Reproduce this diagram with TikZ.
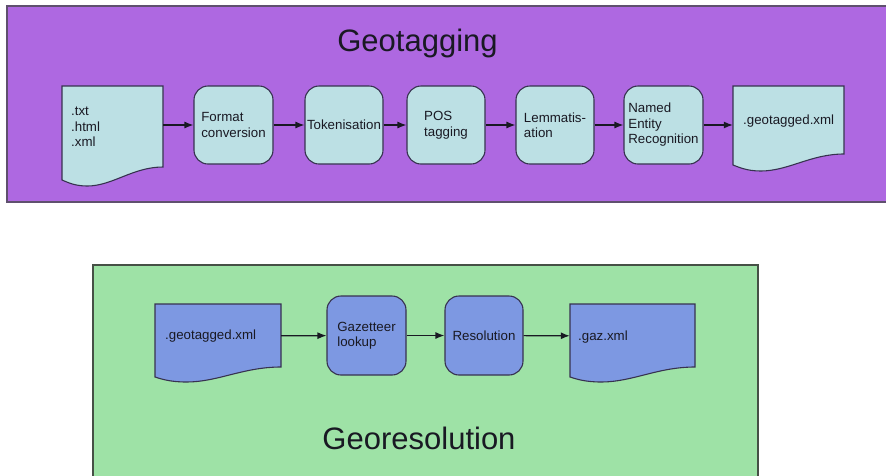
\documentclass[tikz,border=0pt]{standalone}
\usepackage{fontspec}
\setmainfont{Liberation Sans}
\usetikzlibrary{arrows.meta}

\definecolor{tagbg}{RGB}{174,104,225}
\definecolor{tagframe}{RGB}{95,80,110}
\definecolor{resbg}{RGB}{158,226,166}
\definecolor{resframe}{RGB}{70,80,70}
\definecolor{cyanfill}{RGB}{188,224,228}
\definecolor{bluefill}{RGB}{125,152,226}
\definecolor{outline}{RGB}{55,50,80}
\definecolor{ink}{RGB}{25,25,35}

% document symbol: flat top, wavy bottom edge
% #1 style, #2 left x, #3 right x, #4 top y, #5 right-bottom y, #6 left-bottom y, #7 lowest y
\newcommand\docsymbol[7]{%
  \draw[#1] (#2,#4) -- (#3,#4) -- (#3,#5)
    .. controls ({#3-0.3*(#3-#2)},#5) and ({#2+0.5*(#3-#2)},#7) .. ({#2+0.25*(#3-#2)},#7)
    .. controls ({#2+0.12*(#3-#2)},#7) and ({#2+0.05*(#3-#2)},{#6+2}) .. (#2,#6) -- cycle;}

\begin{document}
\begin{tikzpicture}[x=1pt,y=-1pt,
  small/.style={font=\fontsize{13.3}{15.5}\selectfont, text=ink},
  procbox/.style={small, draw=outline, line width=1.1pt, rounded corners=14pt,
    minimum width=78pt, minimum height=78pt, align=left, inner sep=1pt},
  docanchor/.style={draw=none, inner sep=0pt},
  doctext/.style={small, anchor=west, align=left, inner sep=0pt},
  docline/.style={draw=outline, line width=1.1pt},
  flow/.style={draw=ink, line width=1.2pt, -{Latex[length=9pt,width=7pt]}},
  title/.style={font=\fontsize{31}{36}\selectfont, text=ink, anchor=base, inner sep=0pt}]

\clip (0,0) rectangle (886,475);
\fill[white] (0,0) rectangle (886,475);

% ---------- Geotagging panel ----------
\draw[fill=tagbg, draw=tagframe, line width=1.5pt] (7,6) rectangle (900,202);
\node[title] (geotag) at (417.5,51) {Geotagging};

\docsymbol{docline, fill=cyanfill}{62}{163}{86}{167}{180}{186}
\docsymbol{docline, fill=cyanfill}{733}{844}{86}{154}{165}{171}
\node[docanchor, minimum width=101pt, minimum height=78pt] (din) at (112.5,125) {};
\node[docanchor, minimum width=111pt, minimum height=78pt] (dout) at (788.5,125) {};
\node[doctext] (tin) at (71,127) {.txt\\.html\\.xml};
\node[doctext] (tout) at (743,121) {.geotagged.xml};

\node[procbox, fill=cyanfill, minimum width=79pt] (fmt) at (233.5,125) {Format\\conversion};
\node[procbox, fill=cyanfill] (tok) at (344,125) {Tokenisation};
\node[procbox, fill=cyanfill] (pos) at (446,125) {POS\\tagging};
\node[procbox, fill=cyanfill] (lem) at (555,125) {Lemmatis-\\ation};
\node[procbox, fill=cyanfill, minimum width=79pt] (ner) at (663.5,125) {Named\\Entity\\Recognition};

\draw[flow] (din) -- (fmt);
\draw[flow] (fmt) -- (tok);
\draw[flow] (tok) -- (pos);
\draw[flow] (pos) -- (lem);
\draw[flow] (lem) -- (ner);
\draw[flow] (ner) -- (dout);

% ---------- Georesolution panel ----------
\draw[fill=resbg, draw=resframe, line width=1.5pt] (93,265) rectangle (758,490);
\node[title] (geores) at (419,449) {Georesolution};

\docsymbol{docline, fill=bluefill}{155}{281}{304}{367}{377}{382}
\docsymbol{docline, fill=bluefill}{570}{695}{304}{367}{377}{382}
\node[docanchor, minimum width=126pt, minimum height=64pt] (gin) at (218,336) {};
\node[docanchor, minimum width=125pt, minimum height=64pt] (gout) at (632.5,336) {};
\node[doctext] (tgin) at (165,336) {.geotagged.xml};
\node[doctext] (tgout) at (578,337) {.gaz.xml};

\node[procbox, fill=bluefill, minimum width=79pt, minimum height=79pt] (gaz) at (366.5,335.5) {Gazetteer\\lookup};
\node[procbox, fill=bluefill, minimum height=79pt] (res) at (484,335.5) {Resolution};

\draw[flow] (gin) -- (gaz);
\draw[flow] (gaz) -- (res);
\draw[flow] (res) -- (gout);

\end{tikzpicture}
\end{document}
